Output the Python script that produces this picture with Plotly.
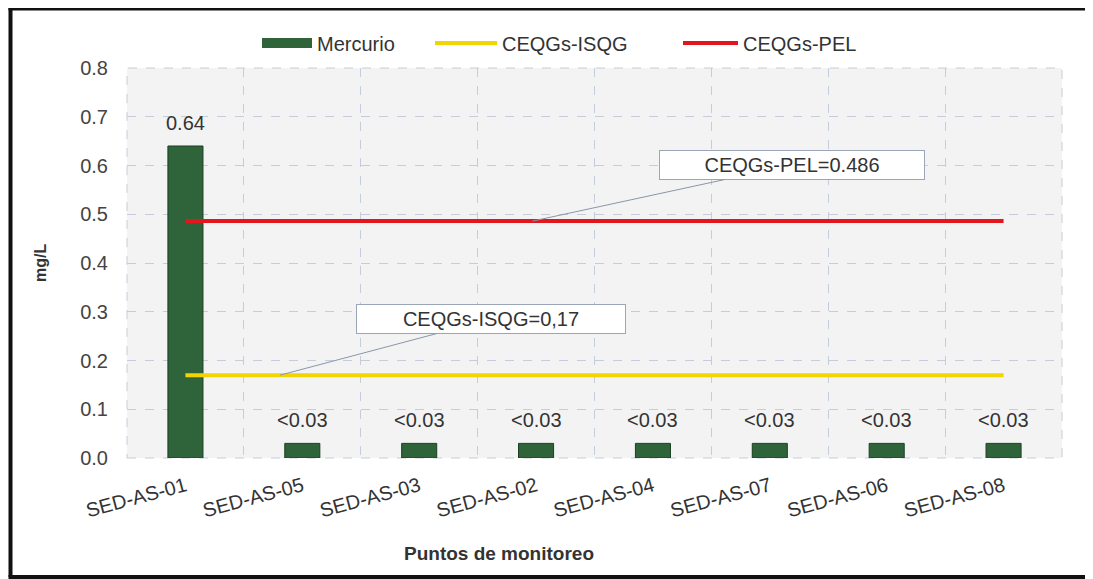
import plotly.graph_objects as go

# ---- data ----
categories = ["SED-AS-01", "SED-AS-05", "SED-AS-03", "SED-AS-02",
              "SED-AS-04", "SED-AS-07", "SED-AS-06", "SED-AS-08"]
mercurio = [0.64, 0.03, 0.03, 0.03, 0.03, 0.03, 0.03, 0.03]
bar_labels = ["0.64", "<0.03", "<0.03", "<0.03", "<0.03", "<0.03", "<0.03", "<0.03"]
isqg_value = 0.17
pel_value = 0.486
isqg = [isqg_value] * len(categories)
pel = [pel_value] * len(categories)
y_ticks = [0.0, 0.1, 0.2, 0.3, 0.4, 0.5, 0.6, 0.7, 0.8]
y_tick_text = ["0.0", "0.1", "0.2", "0.3", "0.4", "0.5", "0.6", "0.7", "0.8"]

FONT = "Liberation Sans, Arial, sans-serif"
TXT = "#333333"
GREEN = "#2f6339"

# page has an 8px body margin; lay out in figure pixels accordingly
W, H = 1085, 571
L, R, T, B = 119, 31, 60, 121
pw, ph = W - L - R, H - T - B


def px(xf):
    return (xf - L) / pw


def py(yf):
    return (H - B - yf) / ph


fig = go.Figure()
fig.add_trace(go.Bar(
    x=categories, y=mercurio, name="Mercurio", showlegend=False,
    marker=dict(color=GREEN, line=dict(color="#1d3f24", width=1)),
    width=0.3,
))
# legend entry for bars, drawn as a wide green block like the original
fig.add_trace(go.Scatter(
    x=[None], y=[None], name="Mercurio", mode="lines",
    line=dict(color=GREEN, width=12), legend="legend",
))
fig.add_trace(go.Scatter(
    x=categories, y=isqg, name="CEQGs-ISQG", mode="lines",
    line=dict(color="#f2d500", width=4), legend="legend2",
))
fig.add_trace(go.Scatter(
    x=categories, y=pel, name="CEQGs-PEL", mode="lines",
    line=dict(color="#e3161d", width=4), legend="legend3",
))

annotations = []
for c, v, lab in zip(categories, mercurio, bar_labels):
    annotations.append(dict(x=c, y=v, text=lab, showarrow=False, yshift=23,
                            font=dict(family=FONT, size=20, color=TXT)))

# callouts
annotations.append(dict(
    x=2.97, y=pel_value, text="CEQGs-PEL=0.486", showarrow=True,
    ax=259, ay=-56, arrowhead=0, arrowwidth=1, arrowcolor="#8a96a8",
    bgcolor="white", bordercolor="#9aa6b8", borderwidth=1, borderpad=3,
    width=258, font=dict(family=FONT, size=20, color=TXT)))
annotations.append(dict(
    x=0.81, y=isqg_value, text="CEQGs-ISQG=0,17", showarrow=True,
    ax=211, ay=-56, arrowhead=0, arrowwidth=1, arrowcolor="#8a96a8",
    bgcolor="white", bordercolor="#9aa6b8", borderwidth=1, borderpad=3,
    width=262, font=dict(family=FONT, size=20, color=TXT)))

# axis titles
annotations.append(dict(xref="paper", yref="paper", x=px(32), y=py(255),
                        xanchor="center", yanchor="middle",
                        text="<b>mg/L</b>", textangle=-90, showarrow=False,
                        font=dict(family=FONT, size=16, color=TXT)))
annotations.append(dict(xref="paper", yref="paper", x=px(491), y=py(545),
                        xanchor="center", yanchor="middle",
                        text="<b>Puntos de monitoreo</b>", showarrow=False,
                        font=dict(family=FONT, size=19, color=TXT)))

frame = dict(type="line", xref="paper", yref="paper",
             line=dict(color="#111111", width=4))
shapes = [
    dict(type="rect", xref="paper", yref="paper", x0=0, y0=0, x1=1, y1=1,
         line=dict(color="#c5cdda", width=1, dash="dash"), layer="below"),
    dict(frame, x0=px(2.5), x1=px(2.5), y0=py(569), y1=py(0)),
    dict(frame, x0=px(0.5), x1=px(1100), y0=py(0.5), y1=py(0.5)),
    dict(frame, x0=px(0.5), x1=px(1100), y0=py(569), y1=py(569)),
]

leg_common = dict(orientation="h", xanchor="left", yanchor="middle", y=py(35),
                  font=dict(family=FONT, size=20, color=TXT),
                  bgcolor="rgba(0,0,0,0)")

fig.update_layout(
    width=W, height=H,
    margin=dict(l=L, r=R, t=T, b=B),
    paper_bgcolor="white", plot_bgcolor="#f3f3f3",
    font=dict(family=FONT, size=20, color=TXT),
    showlegend=True,
    legend=dict(x=px(249), itemwidth=50, **leg_common),
    legend2=dict(x=px(422), itemwidth=62, **leg_common),
    legend3=dict(x=px(670), itemwidth=55, **leg_common),
    xaxis=dict(tickson="boundaries", showgrid=True, gridcolor="#c5cdda",
               griddash="dash", gridwidth=1, ticks="", tickangle=-15,
               ticklabelstandoff=12,
               tickfont=dict(family=FONT, size=20, color=TXT),
               zeroline=False, showline=False),
    yaxis=dict(range=[0, 0.8], tickvals=y_ticks, ticktext=y_tick_text,
               showgrid=True, gridcolor="#c5cdda", griddash="dash", gridwidth=1,
               zeroline=False, ticks="", ticklabelstandoff=18,
               tickfont=dict(family=FONT, size=20, color="#444444")),
    bargap=0.7,
    annotations=annotations,
    shapes=shapes,
)

fig.write_html("out.html")
